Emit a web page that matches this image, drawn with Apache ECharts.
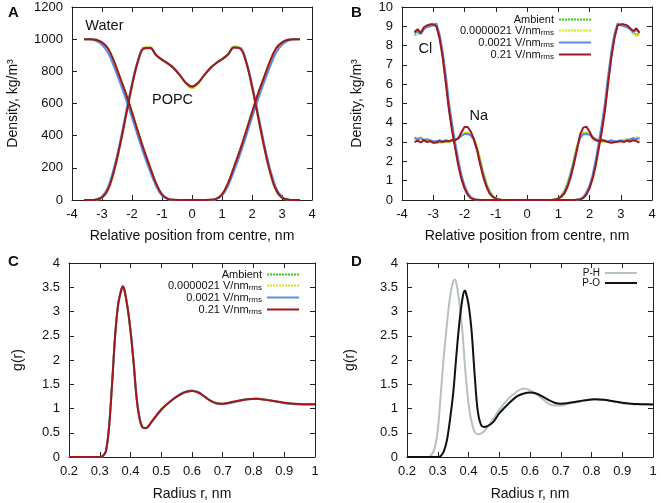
<!DOCTYPE html>
<html><head><meta charset="utf-8">
<script src="https://cdn.jsdelivr.net/npm/echarts@6/dist/echarts.min.js"></script>
<style>html,body{margin:0;padding:0;background:#fff}#c{width:661px;height:503px}</style>
</head><body><div id="c"></div>
<script>
// ---------- DATA ----------
const conditions = ['Ambient', '0.0000021 V/nm_rms', '0.0021 V/nm_rms', '0.21 V/nm_rms'];
const rdfNames = ['P-H', 'P-O'];

// Panel A: density profiles (kg/m3)
const xA = [-3.6,-3.4,-3.2,-3.0,-2.8,-2.6,-2.4,-2.2,-2.0,-1.8,-1.6,-1.4,-1.2,-1.0,-0.8,-0.6,-0.4,-0.2,0,0.2,0.4,0.6,0.8,1.0,1.2,1.4,1.6,1.8,2.0,2.2,2.4,2.6,2.8,3.0,3.2,3.4,3.6];
const waterAmb = [1000,1000,996,979,941,861,761,659,544,424,309,204,104,35,7,1,0,0,0,0,0,1,7,35,104,204,309,424,544,659,761,861,941,979,996,1000,1000];
const waterLow = [1000,1000,995,978,940,860,760,658,543,423,308,203,104,34,7,1,0,0,0,0,0,1,7,34,104,203,308,423,543,658,760,860,940,978,995,1000,1000];
const waterMid = [1000,999,990,965,915,830,730,625,512,395,282,180,88,27,5,0,0,0,0,0,0,0,5,27,88,180,282,395,512,625,730,830,915,965,990,999,1000];
const waterHigh = [1000,1000,996,980,942,862,762,660,545,425,310,205,105,35,7,1,0,0,0,0,0,1,7,35,105,205,310,425,545,660,762,862,942,980,996,1000,1000];
const popcAmb = [0,0,2,15,64,179,339,524,709,863,946,948,903,872,848,818,774,725,698,725,774,818,850,875,906,951,946,861,704,519,334,174,61,14,2,0,0];
const popcLow = [0,0,2,14,63,178,338,522,708,864,950,952,905,873,848,817,772,722,695,722,772,817,850,876,908,955,950,862,703,518,333,173,60,13,2,0,0];
const popcMid = [0,0,4,22,80,200,360,545,725,870,945,946,902,872,848,818,775,728,705,728,775,818,850,875,905,948,946,868,720,540,355,195,77,20,4,0,0];
const popcHigh = [0,0,2,15,65,180,340,525,710,862,942,945,902,872,848,818,775,728,705,728,775,818,850,875,905,948,942,860,705,520,335,175,62,14,2,0,0];

// Panel B: ion density profiles
const xB = [-3.6,-3.5,-3.4,-3.3,-3.2,-3.1,-3.0,-2.9,-2.8,-2.7,-2.6,-2.5,-2.4,-2.3,-2.2,-2.1,-2.0,-1.9,-1.8,-1.7,-1.6,-1.5,-1.4,-1.3,-1.2,-1.1,-1.0,-0.9,-0.8,-0.7,-0.6,-0.5,-0.4,-0.3,-0.2,-0.1,0,0.1,0.2,0.3,0.4,0.5,0.6,0.7,0.8,0.9,1.0,1.1,1.2,1.3,1.4,1.5,1.6,1.7,1.8,1.9,2.0,2.1,2.2,2.3,2.4,2.5,2.6,2.7,2.8,2.9,3.0,3.1,3.2,3.3,3.4,3.5,3.6];
const clAmb = [8.55,8.65,8.62,8.88,9.00,9.05,9.08,9.03,8.48,7.48,6.18,4.82,3.72,2.78,1.88,1.18,0.64,0.30,0.12,0.04,0.01, 0,0,0,0,0,0,0,0,0,0, 0,0,0,0,0,0,0,0,0,0, 0,0,0,0,0,0,0,0,0,0, 0, 0.01,0.04,0.12,0.30,0.64,1.18,1.88,2.78,3.72,4.82,6.18,7.48,8.48,9.03,9.08,9.05,9.00,8.88,8.65,8.55,8.62];
const clLow = [8.50,8.60,8.65,8.90,9.00,9.05,9.10,9.05,8.50,7.50,6.20,4.85,3.75,2.80,1.90,1.20,0.65,0.30,0.12,0.04,0.01, 0,0,0,0,0,0,0,0,0,0, 0,0,0,0,0,0,0,0,0,0, 0,0,0,0,0,0,0,0,0,0, 0, 0.01,0.04,0.12,0.30,0.65,1.20,1.90,2.80,3.75,4.85,6.20,7.50,8.50,9.05,9.10,9.05,9.00,8.85,8.60,8.50,8.60];
const clMid = [8.65,8.75,8.60,8.85,8.95,9.00,9.05,9.15,8.60,7.70,6.50,5.10,4.00,3.00,2.10,1.30,0.75,0.38,0.15,0.05,0.02, 0,0,0,0,0,0,0,0,0,0, 0,0,0,0,0,0,0,0,0,0, 0,0,0,0,0,0,0,0,0,0, 0, 0.02,0.05,0.15,0.38,0.75,1.30,2.10,3.00,4.00,5.10,6.50,7.70,8.60,9.15,9.05,9.00,8.95,8.85,8.70,8.80,8.70];
const clHigh = [8.70,8.85,8.65,8.95,9.05,9.10,9.10,9.00,8.40,7.40,6.10,4.70,3.60,2.70,1.80,1.10,0.60,0.28,0.10,0.03,0.01, 0,0,0,0,0,0,0,0,0,0, 0,0,0,0,0,0,0,0,0,0, 0,0,0,0,0,0,0,0,0,0, 0, 0.01,0.03,0.10,0.28,0.60,1.10,1.80,2.70,3.60,4.70,6.10,7.40,8.40,9.05,9.10,9.10,9.05,8.90,8.75,8.90,8.65];
const naAmb = [3.22,3.18,3.22,3.12,3.08,3.02,2.97,3.00,2.97,3.02,3.05,3.02,3.06,3.10,3.18,3.33,3.46,3.48,3.38,3.20,2.75,2.10,1.43,0.88,0.47,0.21,0.08,0.03, 0,0,0,0,0,0,0,0,0,0,0,0,0,0,0,0,0, 0.03,0.08,0.21,0.47,0.88,1.43,2.10,2.78,3.28,3.46,3.48,3.40,3.28,3.13,3.05,3.02,3.03,3.00,2.97,3.00,3.02,3.05,3.08,3.12,3.10,3.18,3.22,3.22];
const naLow = [3.25,3.20,3.25,3.15,3.10,3.00,2.95,3.00,2.95,3.00,3.05,3.00,3.05,3.10,3.20,3.35,3.48,3.50,3.40,3.22,2.78,2.12,1.45,0.90,0.48,0.22,0.09,0.03, 0,0,0,0,0,0,0,0,0,0,0,0,0,0,0,0,0, 0.03,0.09,0.22,0.48,0.90,1.45,2.12,2.80,3.30,3.48,3.50,3.42,3.30,3.15,3.05,3.00,3.05,3.00,2.95,2.98,3.00,3.05,3.10,3.15,3.10,3.20,3.25,3.25];
const naMid = [3.20,3.15,3.20,3.10,3.15,3.10,3.05,3.05,3.10,3.05,3.10,3.05,3.10,3.12,3.20,3.32,3.42,3.42,3.35,3.10,2.60,1.95,1.30,0.78,0.40,0.18,0.07,0.02, 0,0,0,0,0,0,0,0,0,0,0,0,0,0,0,0,0, 0.02,0.08,0.20,0.42,0.80,1.35,2.00,2.70,3.20,3.40,3.42,3.38,3.25,3.15,3.10,3.12,3.08,3.05,3.10,3.05,3.05,3.10,3.05,3.10,3.15,3.20,3.15,3.20];
const naHigh = [3.00,3.08,2.98,3.10,3.00,3.05,2.97,2.98,3.05,3.00,3.06,3.05,3.10,3.10,3.20,3.50,3.78,3.78,3.55,3.15,2.60,1.85,1.20,0.70,0.35,0.17,0.07,0.02, 0,0,0,0,0,0,0,0,0,0,0,0,0,0,0,0,0, 0.02,0.07,0.17,0.35,0.70,1.20,1.85,2.60,3.40,3.75,3.80,3.55,3.20,3.10,3.05,3.10,3.05,3.00,2.97,3.00,3.02,3.05,3.00,3.08,3.02,3.10,3.05,2.98];

// Panel C: g(r)
const rC = [0.2,0.25,0.3,0.31,0.32,0.33,0.34,0.35,0.36,0.37,0.375,0.38,0.39,0.40,0.41,0.42,0.43,0.44,0.45,0.47,0.50,0.53,0.56,0.58,0.60,0.62,0.64,0.66,0.68,0.70,0.72,0.75,0.78,0.81,0.84,0.87,0.90,0.93,0.96,1.0];
const gAmb = [0,0,0,0.02,0.12,0.6,1.5,2.5,3.15,3.45,3.51,3.45,3.1,2.6,1.95,1.2,0.78,0.61,0.6,0.74,0.98,1.15,1.28,1.34,1.36,1.33,1.25,1.16,1.11,1.1,1.12,1.16,1.19,1.2,1.18,1.15,1.12,1.1,1.09,1.09];
const gLow = [0,0,0,0.02,0.12,0.6,1.5,2.5,3.15,3.45,3.52,3.45,3.1,2.6,1.95,1.2,0.78,0.61,0.6,0.74,0.98,1.15,1.28,1.34,1.36,1.33,1.25,1.16,1.11,1.1,1.12,1.16,1.19,1.2,1.18,1.15,1.12,1.1,1.09,1.09];
const gMid = [0,0,0,0.02,0.12,0.6,1.5,2.5,3.15,3.44,3.5,3.45,3.1,2.62,1.98,1.24,0.8,0.6,0.59,0.73,0.97,1.15,1.29,1.35,1.37,1.34,1.25,1.16,1.1,1.09,1.11,1.15,1.19,1.2,1.18,1.15,1.11,1.09,1.08,1.08];
const gHigh = [0,0,0,0.02,0.12,0.6,1.5,2.5,3.15,3.45,3.52,3.45,3.1,2.6,1.95,1.2,0.78,0.61,0.6,0.74,0.98,1.15,1.28,1.34,1.36,1.33,1.25,1.16,1.11,1.1,1.12,1.16,1.19,1.2,1.18,1.15,1.12,1.1,1.09,1.09];

// Panel D: g(r) P-H and P-O
const rPH = [0.2,0.25,0.27,0.28,0.29,0.30,0.31,0.32,0.33,0.34,0.35,0.355,0.36,0.37,0.38,0.39,0.40,0.41,0.42,0.43,0.44,0.46,0.48,0.50,0.53,0.56,0.58,0.60,0.62,0.64,0.66,0.68,0.70,0.72,0.75,0.78,0.81,0.84,0.87,0.90,0.93,0.96,1.0];
const gPH = [0,0,0,0.05,0.18,0.55,1.3,2.1,2.75,3.3,3.62,3.66,3.6,3.2,2.6,1.75,1.1,0.72,0.52,0.47,0.48,0.6,0.78,0.97,1.2,1.36,1.41,1.38,1.3,1.2,1.1,1.06,1.06,1.09,1.13,1.17,1.19,1.18,1.15,1.11,1.09,1.08,1.08];
const rPO = [0.2,0.25,0.3,0.31,0.32,0.33,0.34,0.35,0.36,0.37,0.38,0.387,0.39,0.40,0.41,0.42,0.43,0.44,0.45,0.46,0.48,0.50,0.53,0.56,0.58,0.60,0.62,0.64,0.66,0.68,0.70,0.72,0.75,0.78,0.81,0.84,0.87,0.90,0.93,0.96,1.0];
const gPO = [0,0,0,0.02,0.12,0.35,0.78,1.3,2.05,2.75,3.25,3.43,3.42,3.15,2.6,1.7,0.95,0.67,0.62,0.63,0.72,0.9,1.1,1.26,1.31,1.33,1.31,1.25,1.18,1.12,1.1,1.11,1.14,1.17,1.19,1.18,1.15,1.12,1.1,1.09,1.08];

// ---------- CHART ----------
const FONT = 'Liberation Sans';
const condColors = ['#3ccc1c', '#cfe31c', '#5a8de4', '#a3161c'];
const condDash = [[2, 1], [2, 1], 'solid', 'solid'];
const rdfColors = ['#b6c1c3', '#111111'];
const pairs = (xs, ys) => xs.map((x, i) => [x, ys[i]]);

const grids = [
  {left: 72, top: 7, width: 240, height: 193},
  {left: 402, top: 7, width: 250, height: 193},
  {left: 69, top: 263, width: 246, height: 194},
  {left: 407, top: 263, width: 246, height: 194}
];
const axCol = '#222';
const plainNum = v => String(Math.round(v * 1000) / 1000);
function mainX(g, min, max, iv, name, gap) {
  return {type: 'value', gridIndex: g, min, max, interval: iv, position: 'bottom',
    name, nameLocation: 'middle', nameGap: gap,
    nameTextStyle: {fontSize: 14, color: '#111', fontFamily: FONT},
    axisLine: {onZero: false, lineStyle: {color: axCol, width: 1}},
    axisTick: {inside: true, length: 5, lineStyle: {color: axCol}},
    axisLabel: {fontSize: 13, color: '#111', margin: 8, fontFamily: FONT, formatter: plainNum},
    splitLine: {show: false}};
}
function mirrorX(g, min, max, iv) {
  return {type: 'value', gridIndex: g, min, max, interval: iv, position: 'top',
    axisLine: {onZero: false, lineStyle: {color: axCol, width: 1}},
    axisTick: {inside: true, length: 5, lineStyle: {color: axCol}},
    axisLabel: {show: false}, splitLine: {show: false}};
}
function mainY(g, min, max, iv, name, gap) {
  return {type: 'value', gridIndex: g, min, max, interval: iv, position: 'left',
    name, nameLocation: 'middle', nameGap: gap,
    nameTextStyle: {fontSize: 14, color: '#111', fontFamily: FONT},
    axisLine: {show: true, onZero: false, lineStyle: {color: axCol, width: 1}},
    axisTick: {show: true, inside: true, length: 5, lineStyle: {color: axCol}},
    axisLabel: {fontSize: 13, color: '#111', margin: 9, fontFamily: FONT, formatter: plainNum},
    splitLine: {show: false}};
}
function mirrorY(g, min, max, iv) {
  return {type: 'value', gridIndex: g, min, max, interval: iv, position: 'right',
    axisLine: {show: true, onZero: false, lineStyle: {color: axCol, width: 1}},
    axisTick: {show: true, inside: true, length: 5, lineStyle: {color: axCol}},
    axisLabel: {show: false}, splitLine: {show: false}};
}

const xAxes = [
  mainX(0, -4, 4, 1, 'Relative position from centre, nm', 29),
  mainX(1, -4, 4, 1, 'Relative position from centre, nm', 29),
  mainX(2, 0.2, 1, 0.1, 'Radius r, nm', 30),
  mainX(3, 0.2, 1, 0.1, 'Radius r, nm', 30),
  mirrorX(0, -4, 4, 1), mirrorX(1, -4, 4, 1), mirrorX(2, 0.2, 1, 0.1), mirrorX(3, 0.2, 1, 0.1)
];
const yAxes = [
  mainY(0, 0, 1200, 200, 'Density, kg/m³', 52),
  mainY(1, 0, 10, 1, 'Density, kg/m³', 38),
  mainY(2, 0, 4, 0.5, 'g(r)', 44),
  mainY(3, 0, 4, 0.5, 'g(r)', 50),
  mirrorY(0, 0, 1200, 200), mirrorY(1, 0, 10, 1), mirrorY(2, 0, 4, 0.5), mirrorY(3, 0, 4, 0.5)
];

const series = [];
function line(name, idx, data, color, dash, smooth, extra) {
  const s = {type: 'line', name, xAxisIndex: idx, yAxisIndex: idx, data, color,
    symbol: 'none', showSymbol: false, smooth, silent: true, animation: false,
    lineStyle: {color, width: 2, type: dash}, itemStyle: {color}, z: 3};
  Object.assign(s, extra || {});
  series.push(s);
}
const waterSets = [waterAmb, waterLow, waterMid, waterHigh];
const popcSets = [popcAmb, popcLow, popcMid, popcHigh];
const clSets = [clAmb, clLow, clMid, clHigh];
const naSets = [naAmb, naLow, naMid, naHigh];
const gSets = [gAmb, gLow, gMid, gHigh];
const labelStyle = {show: true, position: 'inside', color: '#111', fontSize: 14.5, fontFamily: FONT, formatter: p => p.name};
for (let k = 0; k < 4; k++) {
  const c = condColors[k], d = condDash[k];
  const last = k === 3;
  line(conditions[k], 0, pairs(xA, waterSets[k]), c, d, 0.4, last ? {markPoint: {symbol: 'rect', symbolSize: 1, itemStyle: {color: 'rgba(0,0,0,0)'}, label: labelStyle, silent: true, animation: false,
    data: [{name: 'Water', coord: [-2.92, 1082]}, {name: 'POPC', coord: [-0.65, 622]}]}} : null);
  line(conditions[k], 0, pairs(xA, popcSets[k]), c, d, 0.4);
  line(conditions[k], 1, pairs(xB, clSets[k]), c, d, false, last ? {markPoint: {symbol: 'rect', symbolSize: 1, itemStyle: {color: 'rgba(0,0,0,0)'}, label: labelStyle, silent: true, animation: false,
    data: [{name: 'Cl', coord: [-3.25, 7.82]}, {name: 'Na', coord: [-1.54, 4.35]}]}} : null);
  line(conditions[k], 1, pairs(xB, naSets[k]), c, d, false);
  line(conditions[k], 2, pairs(rC, gSets[k]), c, d, 0.35);
}
line(rdfNames[0], 3, pairs(rPH, gPH), rdfColors[0], 'solid', 0.35);
line(rdfNames[1], 3, pairs(rPO, gPO), rdfColors[1], 'solid', 0.35);

const legendText = {fontSize: 11, color: '#111', fontFamily: FONT,
  rich: {s: {fontSize: 8, color: '#111', fontFamily: FONT, padding: [5, 0, 0, 0]}}};
const legendBase = {orient: 'vertical', align: 'right', itemWidth: 32, itemHeight: 8, itemGap: 0, padding: 0,
  selectedMode: false, itemStyle: {opacity: 0, borderWidth: 0}, textStyle: legendText, formatter: n => n.replace('_rms', '{s|rms}')};

const panelLetter = (t, x, y) => ({type: 'text', left: x, top: y, silent: true,
  style: {text: t, font: 'bold 15px "Liberation Sans"', fill: '#111'}});

const chart = echarts.init(document.getElementById('c'));
chart.setOption({
  animation: false,
  backgroundColor: '#fff',
  textStyle: {fontFamily: FONT},
  grid: grids,
  xAxis: xAxes,
  yAxis: yAxes,
  legend: [
    Object.assign({}, legendBase, {data: conditions, right: 69, top: 14}),
    Object.assign({}, legendBase, {data: conditions, right: 361, top: 269}),
    Object.assign({}, legendBase, {data: rdfNames, right: 23, top: 268, textStyle: {fontSize: 10, color: '#111', fontFamily: FONT}})
  ],
  graphic: [panelLetter('A', 8, 5), panelLetter('B', 351, 5), panelLetter('C', 8, 254), panelLetter('D', 351, 254)],
  series
});
</script></body></html>
